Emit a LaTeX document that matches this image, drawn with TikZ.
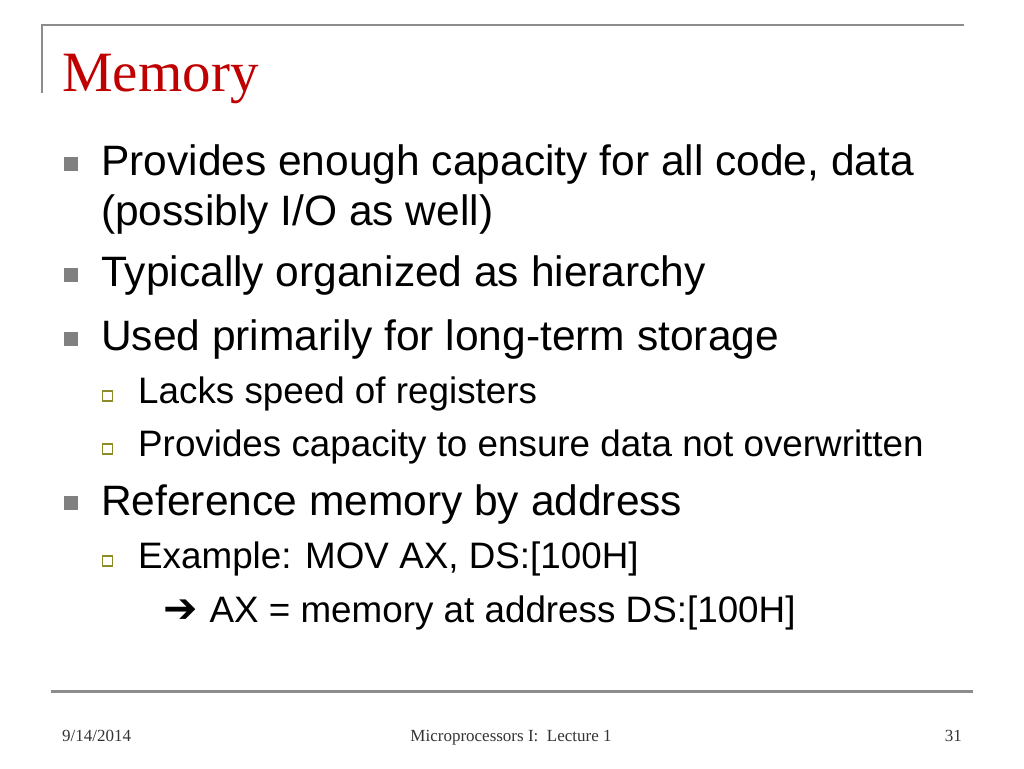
\documentclass[tikz,border=0pt]{standalone}
\usepackage{fontspec}
\setmainfont{Liberation Sans}
\newfontfamily\titlefont{Liberation Serif}
\newfontfamily\arrowfont{DejaVu Sans}
\definecolor{titlered}{RGB}{192,0,0}
\definecolor{rulegray}{RGB}{140,140,140}
\definecolor{bulletgray}{RGB}{128,128,128}
\definecolor{subolive}{RGB}{140,140,40}

\begin{document}
\begin{tikzpicture}[x=1pt,y=-1pt,
    item/.style={anchor=base west,inner sep=0pt,font=\fontsize{42.5}{42.5}\selectfont},
    subitem/.style={anchor=base west,inner sep=0pt,font=\fontsize{36.8}{36.8}\selectfont},
    mainbullet/.style={fill=bulletgray,inner sep=0pt,minimum size=14pt},
    subbullet/.style={draw=subolive,fill=white,line width=1.8pt,inner sep=0pt,minimum size=10pt},
    foot/.style={anchor=base,inner sep=0pt,text=black!80,font=\titlefont\fontsize{17}{17}\selectfont}]
    \useasboundingbox (0,0) rectangle (1024,768);
    % frame lines
    \coordinate (tl) at (42,25);
    \coordinate (tr) at (964,25);
    \coordinate (lb) at (42,93);
    \coordinate (bl) at (51,691);
    \coordinate (br) at (973,691);
    \draw[rulegray,line width=2pt] (lb) -- (tl) -- (tr);
    \draw[rulegray,line width=3pt] (bl) -- (br);
    % title
    \node[anchor=base west,inner sep=0pt,text=titlered,font=\titlefont\fontsize{57}{57}\selectfont] (title) at (62,91) {Memory};
    % bullets
    \node[mainbullet] (b1) at (71,164) {};
    \node[item] (t1) at (101,175) {Provides enough capacity for all code, data};
    \node[item] (t1b) at (101,225) {(possibly I/O as well)};
    \node[mainbullet] (b2) at (71,275) {};
    \node[item] (t2) at (101,286) {Typically organized as hierarchy};
    \node[mainbullet] (b3) at (71,339) {};
    \node[item] (t3) at (101,350) {Used primarily for long-term storage};
    \node[subbullet] (s1) at (107.5,396) {};
    \node[subitem] (u1) at (138,403) {Lacks speed of registers};
    \node[subbullet] (s2) at (107.5,449) {};
    \node[subitem] (u2) at (138,456) {Provides capacity to ensure data not overwritten};
    \node[mainbullet] (b4) at (71,503) {};
    \node[item] (t4) at (101,515) {Reference memory by address};
    \node[subbullet] (s3) at (107.5,561) {};
    \node[subitem] (u3) at (138,568) {Example: MOV AX, DS:[100H]};
    \node[subitem] (u4) at (163,622) {{\arrowfont\fontsize{41}{41}\selectfont ➔}\hspace{12pt}AX = memory at address DS:[100H]};
    % footer
    \node[foot,anchor=base west] (date) at (62,741) {9/14/2014};
    \node[foot] (course) at (511,741) {Microprocessors I:\ \ Lecture 1};
    \node[foot,anchor=base east] (page) at (962,741) {31};
\end{tikzpicture}
\end{document}
